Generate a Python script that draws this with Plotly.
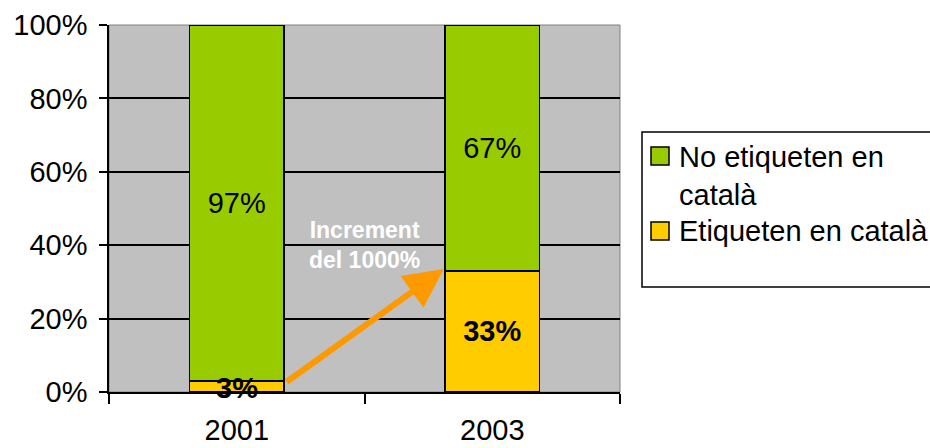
import plotly.graph_objects as go

# Data
years = ["2001", "2003"]
si_catala = [3, 33]        # Etiqueten en català
no_catala = [97, 67]       # No etiqueten en català
y_ticks = [0, 20, 40, 60, 80, 100]
y_tick_labels = ["0%", "20%", "40%", "60%", "80%", "100%"]
legend_names = ["No etiqueten en<br>català", "Etiqueten en català"]

green = "#99CC00"
yellow = "#FFCC00"
font = "Liberation Sans, Arial, sans-serif"

# plot area in pixels (used to place the hand-made legend)
L, R, T, B = 109, 620, 25, 392
def px(x):
    return (x - L) / (R - L)
def py(y):
    return (B - y) / (B - T)

fig = go.Figure()

# the 3% label overflows its thin segment, so it is added as an annotation below
yellow_text = ["" if v < 10 else f"{v}%" for v in si_catala]
fig.add_trace(go.Bar(
    x=years, y=si_catala, name=legend_names[1],
    marker=dict(color=yellow, line=dict(color="black", width=1.5)),
    text=yellow_text, textposition="inside",
    insidetextanchor="middle", constraintext="none",
    textfont=dict(size=29, color="black", family=font, weight="bold"),
    width=0.37,
))
fig.add_trace(go.Bar(
    x=years, y=no_catala, name=legend_names[0],
    marker=dict(color=green, line=dict(color="black", width=1.5)),
    text=[f"{v}%" for v in no_catala], textposition="inside",
    insidetextanchor="middle", constraintext="none",
    textfont=dict(size=29, color="black", family=font),
    width=0.37,
))
for i, v in enumerate(si_catala):
    if v < 10:
        fig.add_annotation(
            x=i, y=v / 2, xref="x", yref="y", text=f"{v}%", showarrow=False,
            yshift=-1,
            font=dict(size=29, color="black", family=font, weight="bold"),
        )

# Arrow from 2001 "català" segment to 2003 one
fig.add_annotation(
    x=1 - 0.19, y=si_catala[1] + 0.5, xref="x", yref="y",
    ax=0 + 0.19, ay=si_catala[0] - 0.5, axref="x", ayref="y",
    showarrow=True, arrowhead=2, arrowsize=1.3, arrowwidth=6,
    arrowcolor="#FF9900", text="",
)
fig.add_annotation(
    x=0.5, y=40, xref="x", yref="y",
    text="Increment<br>del 1000%", showarrow=False,
    font=dict(size=23, color="white", family=font, weight="bold"),
    align="center",
)

# thin grey frame round the plot area
fig.add_shape(type="rect", xref="paper", yref="paper", x0=0, x1=1, y0=0, y1=1,
              line=dict(color="#808080", width=1), layer="below")

# Legend (drawn by hand so it can run off the right edge like the original)
fig.add_shape(type="rect", xref="paper", yref="paper",
              x0=px(642), x1=px(1000), y0=py(287), y1=py(132),
              line=dict(color="black", width=1.5), fillcolor="white")
for color, top in [(green, 147), (yellow, 222)]:
    fig.add_shape(type="rect", xref="paper", yref="paper",
                  x0=px(651), x1=px(669), y0=py(top + 18), y1=py(top),
                  line=dict(color="black", width=1.5), fillcolor=color)
for name, yc in [(legend_names[0], 176), (legend_names[1], 231)]:
    fig.add_annotation(
        x=px(677), y=py(yc), xref="paper", yref="paper",
        xanchor="left", yanchor="middle", align="left",
        text=name, showarrow=False,
        font=dict(size=29, color="black", family=font),
    )

fig.update_layout(
    barmode="stack",
    width=930, height=448,
    margin=dict(l=L, r=930 - R, t=T, b=448 - B),
    paper_bgcolor="white",
    plot_bgcolor="#C0C0C0",
    font=dict(family=font, size=29, color="black"),
    showlegend=False,
    xaxis=dict(
        type="category", showgrid=False, showline=True, linecolor="black",
        linewidth=1.5, ticks="outside", tickson="boundaries", ticklen=10,
        tickcolor="black", tickwidth=1.5, ticklabelstandoff=11,
        tickfont=dict(size=29), automargin=False,
    ),
    yaxis=dict(
        range=[0, 100], tickvals=y_ticks, ticktext=y_tick_labels,
        showgrid=True, gridcolor="black", gridwidth=1.5,
        showline=True, linecolor="black", linewidth=1.5,
        ticks="outside", ticklen=8, tickcolor="black", tickwidth=1.5,
        ticklabelstandoff=6, tickfont=dict(size=29), zeroline=False,
        automargin=False,
    ),
)

fig.write_html(
    "out.html",
    config={"displayModeBar": False},
    post_script="document.body.style.margin='0';document.body.style.padding='0';",
)
